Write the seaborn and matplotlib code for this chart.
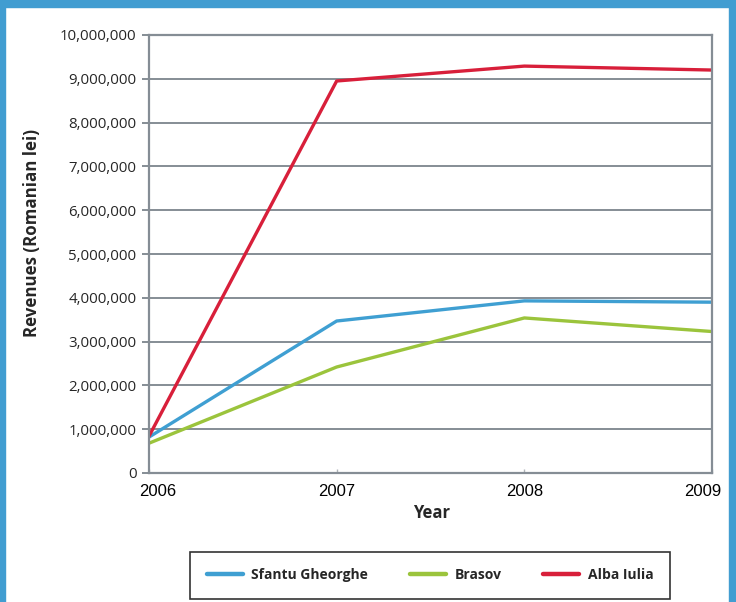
import matplotlib
matplotlib.use("Agg")
import matplotlib.pyplot as plt
import seaborn as sns
import pandas as pd
from matplotlib.patches import Rectangle
from matplotlib.lines import Line2D
from matplotlib.ticker import FuncFormatter

years = [2006, 2007, 2008, 2009]
sfantu_gheorghe = [820000, 3470000, 3930000, 3900000]
brasov = [680000, 2420000, 3540000, 3230000]
alba_iulia = [840000, 8950000, 9290000, 9200000]
series_names = ["Sfantu Gheorghe", "Brasov", "Alba Iulia"]
colors = ["#3f9fd2", "#9bc43c", "#d81f3a"]
year_label_shift_px = [9, 0, 0, -9]

rows = []
for name, vals in zip(series_names, [sfantu_gheorghe, brasov, alba_iulia]):
    for y, v in zip(years, vals):
        rows.append({"Year": y, "Revenue": v, "City": name})
df = pd.DataFrame(rows)

sns.set_style("white")
plt.rcParams["font.family"] = ["Open Sans", "DejaVu Sans"]

fig = plt.figure(figsize=(7.36, 6.02), dpi=100)
W, H = 736, 602
ax = fig.add_axes([149 / W, 1 - 473 / H, (712 - 149) / W, (473 - 35) / H])

sns.lineplot(data=df, x="Year", y="Revenue", hue="City", palette=colors,
             hue_order=series_names, linewidth=2.4, ax=ax, legend=False)

ax.set_xlim(2006, 2009)
ax.set_ylim(0, 10000000)
ax.set_xticks(years)
ax.set_xticklabels([""] * len(years))
for yr, sh in zip(years, year_label_shift_px):
    ax.annotate(str(yr), xy=(yr, 0), xycoords=("data", "axes fraction"),
                xytext=(sh * 0.72, -19 * 0.72), textcoords="offset points",
                ha="center", va="center", fontfamily="Liberation Sans",
                fontsize=12, color="black", annotation_clip=False)
ax.set_yticks(range(0, 10000001, 1000000))
ax.yaxis.set_major_formatter(FuncFormatter(lambda v, p: f"{int(v):,}"))
for lab in ax.get_yticklabels():
    lab.set_fontsize(10.8)
ax.grid(axis="y", color="#858d95", linewidth=1.4)
ax.set_axisbelow(True)
for s in ax.spines.values():
    s.set_color("#858d95")
    s.set_linewidth(1.6)
ax.tick_params(axis="y", length=5, width=1.4, color="#858d95", pad=4, direction="out", left=True)
ax.tick_params(axis="x", length=3, width=1.0, color="#b0b5ba", pad=9, direction="in", bottom=True)

ax.set_xlabel("Year", fontsize=12, fontweight="bold")
ax.xaxis.set_label_coords((432 - 149) / (712 - 149), -(513 - 473) / (473 - 35))
ax.xaxis.label.set_va("center")
ax.set_ylabel("Revenues (Romanian lei)", fontsize=12.2, fontweight="bold")
ax.yaxis.set_label_coords(-(149 - 32) / (712 - 149), (473 - 233) / (473 - 35))
ax.yaxis.label.set_va("center")

handles = [Line2D([], [], color=c, linewidth=3.2) for c in colors]
leg = fig.legend(handles, series_names, loc="lower left",
                 bbox_to_anchor=(190 / W, 1 - 599 / H, (670 - 190) / W, 54 / H),
                 mode="expand", ncol=3, frameon=True, fancybox=False,
                 prop={"family": "Open Sans", "weight": "bold", "size": 10},
                 handlelength=2.6, handletextpad=0.6, borderpad=1.2,
                 columnspacing=2.5, borderaxespad=0)
leg.get_frame().set_edgecolor("black")
leg.get_frame().set_linewidth(1.2)

border = "#419dd1"
fig.patches.append(Rectangle((0, 0), 5 / W, 1, transform=fig.transFigure, color=border, zorder=10))
fig.patches.append(Rectangle((0, 1 - 7 / H), 1, 7 / H, transform=fig.transFigure, color=border, zorder=10))
fig.patches.append(Rectangle((1 - 7 / W, 0), 7 / W, 1, transform=fig.transFigure, color=border, zorder=10))

fig.savefig("out.png", dpi=100)
